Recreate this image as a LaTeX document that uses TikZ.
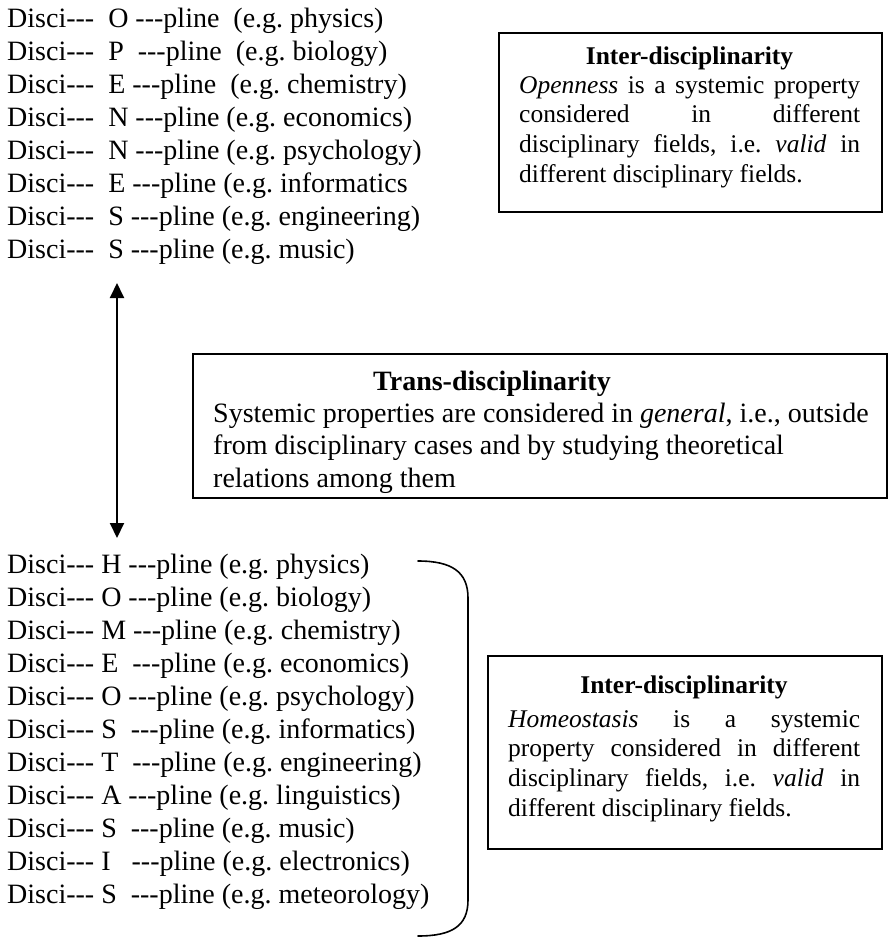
\documentclass[tikz,border=0pt]{standalone}
\usepackage{fontspec}
\setmainfont{Liberation Serif}[Ligatures=TeXOff]
\usetikzlibrary{arrows.meta}
\frenchspacing

\tikzset{
  listline/.style={anchor=base west, inner sep=0pt, font=\fontsize{28}{33}\selectfont},
  frame/.style={draw, line width=1.5pt, anchor=north west, inner sep=0pt},
  boxtitle/.style={anchor=base, inner sep=0pt, font=\bfseries\fontsize{25.5}{30}\selectfont},
  boxbody/.style={anchor=base west, inner sep=0pt, font=\fontsize{25.5}{29.8}\selectfont},
  transtitle/.style={anchor=base, inner sep=0pt, font=\bfseries\fontsize{28}{33}\selectfont},
  transbody/.style={anchor=base west, inner sep=0pt, font=\fontsize{28}{32.5}\selectfont},
  link/.style={line width=2pt, {Triangle[length=15pt,width=14pt]}-{Triangle[length=15pt,width=14pt]}},
  brace/.style={line width=1.6pt, line cap=round}
}

\newcommand{\jline}[1]{\makebox[\linewidth][s]{#1}}

\begin{document}
\begin{tikzpicture}[x=1pt,y=-1pt]
  \useasboundingbox (0,0) rectangle (889,938);

  % upper list: OPENNESS
  \foreach \txt [count=\i] in {
    {Disci---\ \ O ---pline\ \ (e.g. physics)},
    {Disci---\ \ P\ \ ---pline\ \ (e.g. biology)},
    {Disci---\ \ E ---pline\ \ (e.g. chemistry)},
    {Disci---\ \ N ---pline (e.g. economics)},
    {Disci---\ \ N ---pline (e.g. psychology)},
    {Disci---\ \ E ---pline (e.g. informatics},
    {Disci---\ \ S ---pline (e.g. engineering)},
    {Disci---\ \ S ---pline (e.g. music)}}
    \node[listline] (top\i) at (7,{27+33*(\i-1)}) {\txt};

  % lower list: HOMEOSTASIS
  \foreach \txt [count=\i] in {
    {Disci--- H ---pline (e.g. physics)},
    {Disci--- O ---pline (e.g. biology)},
    {Disci--- M ---pline (e.g. chemistry)},
    {Disci--- E\ \ ---pline (e.g. economics)},
    {Disci--- O ---pline (e.g. psychology)},
    {Disci--- S\ \ ---pline (e.g. informatics)},
    {Disci--- T\ \ ---pline (e.g. engineering)},
    {Disci--- A ---pline (e.g. linguistics)},
    {Disci--- S\ \ ---pline (e.g. music)},
    {Disci--- I\ \ \ ---pline (e.g. electronics)},
    {Disci--- S\ \ ---pline (e.g. meteorology)}}
    \node[listline] (bot\i) at (7,{573+33*(\i-1)}) {\txt};

  % double arrow between the two lists
  \coordinate (atop) at (117,283);
  \coordinate (abot) at (117,538);
  \draw[link] (atop) -- (abot);

  % closing bracket around the lower list
  \coordinate (brtop) at (418,561);
  \coordinate (brbot) at (418,936);
  \draw[brace] (brtop) .. controls (452,561) and (468,572) .. (468,598)
    -- (468,900) .. controls (468,926) and (452,936) .. (brbot);

  % upper inter-disciplinarity box
  \node[frame, minimum width=383pt, minimum height=179pt] (inter1) at (498,32) {};
  \node[boxtitle] (inter1t) at (689.5,64) {Inter-disciplinarity};
  \node[boxbody] (inter1b) at (519,93) {\parbox[t]{341pt}{%
    \jline{\textit{Openness} is a systemic property}\\
    \jline{considered in different}\\
    \jline{disciplinary fields, i.e. \textit{valid} in}\\
    different disciplinary fields.}};

  % trans-disciplinarity box
  \node[frame, minimum width=694pt, minimum height=144pt] (trans) at (192,353) {};
  \node[transtitle] (transt) at (492,390) {Trans-disciplinarity};
  \node[transbody] (transb) at (213,422) {\parbox[t]{700pt}{\raggedright
    Systemic properties are considered in \textit{general}, i.e., outside\\
    from disciplinary cases and by studying theoretical\\
    relations among them}};

  % lower inter-disciplinarity box
  \node[frame, minimum width=394pt, minimum height=193pt] (inter2) at (487,655) {};
  \node[boxtitle] (inter2t) at (684,693) {Inter-disciplinarity};
  \node[boxbody] (inter2b) at (508,727) {\parbox[t]{352pt}{%
    \jline{\textit{Homeostasis} is a systemic}\\
    \jline{property considered in different}\\
    \jline{disciplinary fields, i.e. \textit{valid} in}\\
    different disciplinary fields.}};
\end{tikzpicture}
\end{document}
